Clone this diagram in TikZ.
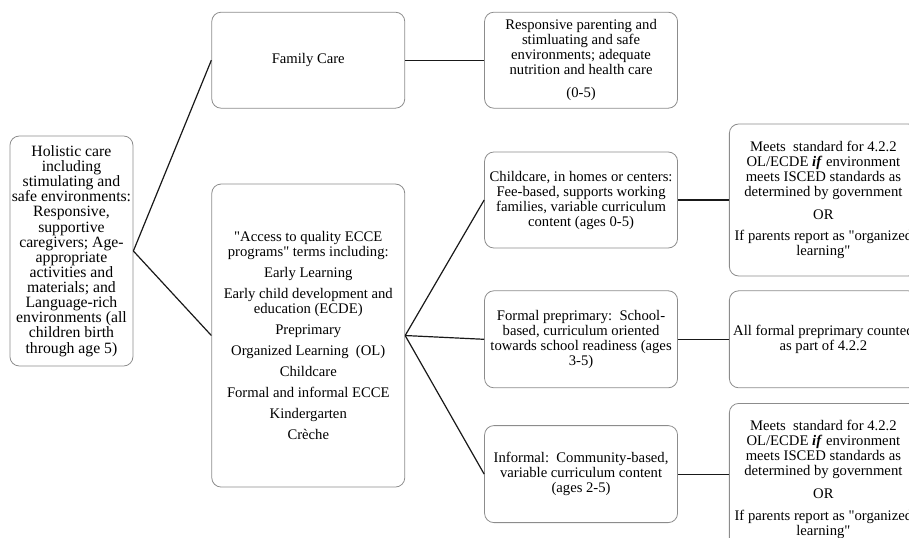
\documentclass[tikz,border=0pt]{standalone}
\usepackage{fontspec}
\setmainfont{Liberation Serif}[Ligatures=TeXOff]
\usetikzlibrary{positioning}
\tikzset{
  carebox/.style={
    draw=black!45,
    line width=0.6pt,
    rounded corners=7pt,
    align=center,
    minimum width=144.75pt,
    minimum height=72pt,
    inner xsep=1pt,
    inner ysep=2pt,
    font=\fontsize{11}{11.25}\selectfont
  },
  holisticbox/.style={
    carebox,
    minimum width=92.25pt,
    minimum height=172.5pt,
    inner xsep=0.5pt,
    font=\fontsize{11.8}{11.35}\selectfont
  },
  standardbox/.style={
    carebox,
    minimum width=141pt,
    minimum height=114pt
  },
  linkline/.style={
    line width=0.9pt,
    draw=black!90
  }
}

\begin{document}
\begin{tikzpicture}[node distance=38.25pt]
  \useasboundingbox (0,0) rectangle (681.75pt,-403.5pt);
  \node[holisticbox] (holistic) at (53.6pt,-188.25pt) {Holistic care\\including\\stimulating and\\safe environments:\\Responsive,\\supportive\\caregivers; Age-\\appropriate\\activities and\\materials; and\\Language-rich\\environments (all\\children birth\\through age 5)};
  \node[carebox, above right=20.25pt and 58.5pt of holistic] (family) {Family Care};
  \node[carebox, minimum height=227.25pt, right=58.5pt of holistic, yshift=-63.4pt] (ecce) {"Access to quality ECCE\\programs" terms including:\\[4.5pt]Early Learning\\[4.5pt]Early child development and\\education (ECDE)\\[4.5pt]Preprimary\\[4.5pt]Organized Learning\ \ (OL)\\[4.5pt]Childcare\\[4.5pt]Formal and informal ECCE\\[4.5pt]Kindergarten\\[4.5pt]Crèche};
  \node[carebox, right=59.25pt of family] (parenting) {Responsive parenting and\\stimluating and safe\\environments; adequate\\nutrition and health care\\[6pt](0-5)};
  \node[carebox, below=32.25pt of parenting] (childcare) {Childcare, in homes or centers:\\Fee-based, supports working\\families, variable curriculum\\content (ages 0-5)};
  \node[carebox, minimum height=72.75pt, below=31.5pt of childcare] (formal) {Formal preprimary:\ \ School-\\based, curriculum oriented\\towards school readiness (ages\\3-5)};
  \node[carebox, minimum height=72.75pt, below=27.75pt of formal] (informal) {Informal:\ \ Community-based,\\variable curriculum content\\(ages 2-5)};
  \node[standardbox, right=of childcare] (stdchild) {Meets\ \ standard for 4.2.2\\OL/ECDE \textbf{\textit{if}} environment\\meets ISCED standards as\\determined by government\\[6pt]OR\\[5pt]If parents report as "organized\\learning"};
  \node[standardbox, minimum height=72.75pt, right=of formal] (counted) {All formal preprimary counted\\as part of 4.2.2};
  \node[standardbox, right=of informal, yshift=-4pt] (stdinformal) {Meets\ \ standard for 4.2.2\\OL/ECDE \textbf{\textit{if}} environment\\meets ISCED standards as\\determined by government\\[6pt]OR\\[5pt]If parents report as "organized\\learning"};
  \draw[linkline] (holistic.east) -- (family.west);
  \draw[linkline] (holistic.east) -- (ecce.west);
  \draw[linkline] (family) -- (parenting);
  \draw[linkline] (ecce.east) -- (childcare.west);
  \draw[linkline] (ecce.east) -- (formal.west);
  \draw[linkline] (ecce.east) -- (informal.west);
  \draw[linkline] (childcare) -- (stdchild);
  \draw[linkline] (formal) -- (counted);
  \draw[linkline] (informal.east) -- (informal.east -| stdinformal.west);
\end{tikzpicture}
\end{document}
